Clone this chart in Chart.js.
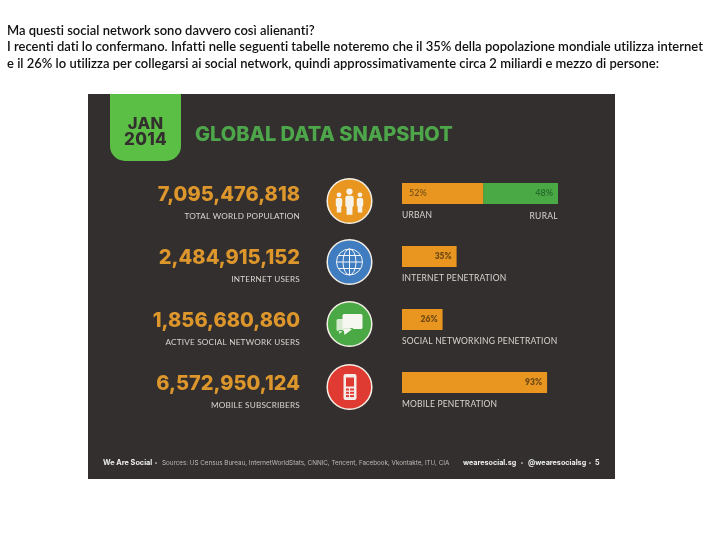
<!DOCTYPE html>
<html>
<head>
<meta charset="utf-8">
<script src="https://cdn.jsdelivr.net/npm/chart.js@4"></script>
<style>
    html, body { margin: 0; padding: 0; background: #fff; }
    #wrap { position: relative; width: 720px; height: 540px; overflow: hidden; }
    #snapshot { position: absolute; left: 0; top: 0; }
    .line { position: absolute; left: 7px; white-space: nowrap; font: 600 13px Lato, sans-serif; font-variant-ligatures: none; color: #111; }
</style>
</head>
<body>
<div id="wrap">
    <canvas id="snapshot" width="720" height="540"></canvas>
    <div class="line" style="top:22px">Ma questi social network sono davvero così alienanti?</div>
    <div class="line" style="top:38px">I recenti dati lo confermano. Infatti nelle seguenti tabelle noteremo che il 35% della popolazione mondiale utilizza internet</div>
    <div class="line" style="top:55px">e il 26% lo utilizza per collegarsi ai social network, quindi approssimativamente circa 2 miliardi e mezzo di persone:</div>
</div>
<script>
const categories = ['Total world population', 'Internet users', 'Active social network users', 'Mobile subscribers'];
const mainValues = [52, 35, 26, 93];
const ruralValues = [48, null, null, null];
const totals = ['7,095,476,818', '2,484,915,152', '1,856,680,860', '6,572,950,124'];
const totalLabels = ['TOTAL WORLD POPULATION', 'INTERNET USERS', 'ACTIVE SOCIAL NETWORK USERS', 'MOBILE SUBSCRIBERS'];
const barLabels = ['URBAN', 'INTERNET PENETRATION', 'SOCIAL NETWORKING PENETRATION', 'MOBILE PENETRATION'];
const iconColors = ['#e8961f', '#3f7cc0', '#4aa944', '#df3b33'];
const iconCenters = [201, 262, 324, 387];

const PANEL = '#332f2e';
const ORANGE = '#e8961f';
const GREEN = '#4aa944';
const LIGHT = '#d9d6d1';

function text(ctx, str, x, y, font, color, align, spacing) {
    ctx.font = font;
    ctx.fillStyle = color;
    ctx.textAlign = align || 'left';
    ctx.textBaseline = 'middle';
    ctx.letterSpacing = (spacing || 0) + 'px';
    ctx.fillText(str, x, y);
    ctx.letterSpacing = '0px';
}

function person(ctx, x, y, s) {
    ctx.beginPath();
    ctx.arc(x, y - 9 * s, 3 * s, 0, Math.PI * 2);
    ctx.fill();
    ctx.beginPath();
    ctx.roundRect(x - 4 * s, y - 5 * s, 8 * s, 11 * s, 2 * s);
    ctx.rect(x - 2.8 * s, y + 5 * s, 5.6 * s, 8 * s);
    ctx.fill();
}

function drawPeople(ctx, x, y) {
    ctx.fillStyle = '#f7f3ea';
    person(ctx, x - 10.5, y + 1, 0.8);
    person(ctx, x + 10.5, y + 1, 0.8);
    person(ctx, x, y, 1.05);
}

function drawGlobe(ctx, x, y) {
    ctx.strokeStyle = '#f3f5f7';
    ctx.lineWidth = 1;
    ctx.beginPath();
    ctx.arc(x, y, 13, 0, Math.PI * 2);
    ctx.moveTo(x - 13, y);
    ctx.lineTo(x + 13, y);
    ctx.moveTo(x, y - 13);
    ctx.lineTo(x, y + 13);
    ctx.moveTo(x - 11, y - 6.5);
    ctx.lineTo(x + 11, y - 6.5);
    ctx.moveTo(x - 11, y + 6.5);
    ctx.lineTo(x + 11, y + 6.5);
    ctx.moveTo(x + 6.5, y);
    ctx.ellipse(x, y, 6.5, 13, 0, 0, Math.PI * 2);
    ctx.stroke();
}

function drawChat(ctx, x, y) {
    ctx.fillStyle = '#d5ead0';
    ctx.beginPath();
    ctx.roundRect(x - 13, y - 5, 14, 12, 1.5);
    ctx.moveTo(x - 11, y + 6);
    ctx.lineTo(x - 10, y + 10);
    ctx.lineTo(x - 6, y + 6);
    ctx.fill();
    ctx.fillStyle = '#f7f7f2';
    ctx.beginPath();
    ctx.roundRect(x - 7, y - 10, 20, 15, 1.5);
    ctx.moveTo(x - 6, y + 4);
    ctx.lineTo(x - 5, y + 11);
    ctx.lineTo(x + 4, y + 4);
    ctx.fill();
}

function drawPhone(ctx, x, y) {
    ctx.fillStyle = '#f7ece8';
    ctx.beginPath();
    ctx.roundRect(x - 6, y - 13, 13, 26, 2);
    ctx.fill();
    ctx.fillStyle = iconColors[3];
    ctx.fillRect(x - 3.5, y - 9.5, 8, 9);
    for (let r = 0; r < 3; r++) {
        ctx.fillRect(x - 3.5, y + 1.5 + r * 3.3, 3, 2);
        ctx.fillRect(x + 0.5, y + 1.5 + r * 3.3, 4, 2);
    }
}

const iconDrawers = [drawPeople, drawGlobe, drawChat, drawPhone];

// panel behind the bars: dark card, tab, title, totals, icons
const backdrop = {
    id: 'backdrop',
    beforeDraw(chart) {
        const ctx = chart.ctx;
        const yAxis = chart.scales.y;
        ctx.save();
        ctx.fillStyle = PANEL;
        ctx.fillRect(88, 94, 527, 385);

        ctx.fillStyle = '#5cbf45';
        ctx.beginPath();
        ctx.roundRect(110, 94, 71, 67, [0, 0, 15, 15]);
        ctx.fill();
        text(ctx, 'JAN', 145.5, 124, '800 16.5px Inter', PANEL, 'center', 0.3);
        text(ctx, '2014', 145.5, 140, '800 17px Inter', PANEL, 'center', 0.3);
        text(ctx, 'GLOBAL DATA SNAPSHOT', 195, 134.5, '800 20px Inter', '#4ea64a', 'left', 0);

        categories.forEach((name, i) => {
            const y = yAxis.getPixelForValue(i);
            text(ctx, totals[i], 300, y + 1, '800 20px Inter', '#dc962c', 'right', 0);
            text(ctx, totalLabels[i], 300, y + 22.5, '400 8.2px Lato', LIGHT, 'right', 0.2);

            ctx.beginPath();
            ctx.arc(349.5, iconCenters[i], 22.3, 0, Math.PI * 2);
            ctx.fillStyle = iconColors[i];
            ctx.fill();
            ctx.strokeStyle = '#f4efe6';
            ctx.lineWidth = 1.5;
            ctx.stroke();
            iconDrawers[i](ctx, 349.5, iconCenters[i]);
        });

        text(ctx, 'We Are Social', 103, 463, '700 7.3px Inter', '#eeeeee');
        text(ctx, '•', 156, 463, '400 6px Inter', '#bdbab5', 'center');
        text(ctx, 'Sources: US Census Bureau, InternetWorldStats, CNNIC, Tencent, Facebook, Vkontakte, ITU, CIA', 162, 463, '400 6.27px Inter', '#bdbab5');
        text(ctx, 'wearesocial.sg', 463, 463, '700 7.2px Inter', '#eeeeee');
        text(ctx, '•', 522, 463, '400 6px Inter', '#bdbab5', 'center');
        text(ctx, '@wearesocialsg', 528, 463, '700 7.2px Inter', '#eeeeee');
        text(ctx, '•', 590, 463, '400 6px Inter', '#bdbab5', 'center');
        text(ctx, '5', 595, 463, '700 7.2px Inter', '#eeeeee');
        ctx.restore();
    }
};

// percent labels inside the bars and captions below them
const barText = {
    id: 'barText',
    afterDatasetsDraw(chart) {
        const ctx = chart.ctx;
        const xAxis = chart.scales.x;
        const yAxis = chart.scales.y;
        ctx.save();
        categories.forEach((name, i) => {
            const y = yAxis.getPixelForValue(i);
            if (ruralValues[i] !== null) {
                text(ctx, mainValues[i] + '%', xAxis.getPixelForValue(0) + 7, y, '600 9px Lato', '#7b5418');
                text(ctx, ruralValues[i] + '%', xAxis.getPixelForValue(100) - 5, y, '600 9px Lato', '#25682c', 'right');
                text(ctx, 'RURAL', xAxis.getPixelForValue(100), y + 23, '400 8.5px Lato', LIGHT, 'right', 0.3);
            } else {
                text(ctx, mainValues[i] + '%', xAxis.getPixelForValue(mainValues[i]) - 5, y, '800 8.5px Lato', '#6e4a14', 'right');
            }
            text(ctx, barLabels[i], xAxis.getPixelForValue(0), y + 22, '400 8.5px Lato', LIGHT, 'left', 0.2);
        });
        ctx.restore();
    }
};

new Chart(document.getElementById('snapshot'), {
    type: 'bar',
    data: {
        labels: categories,
        datasets: [
            { label: 'Main', data: mainValues, backgroundColor: ORANGE },
            { label: 'Rural', data: ruralValues, backgroundColor: GREEN }
        ]
    },
    options: {
        indexAxis: 'y',
        responsive: false,
        animation: false,
        layout: { padding: { left: 402, right: 162, top: 162, bottom: 126 } },
        datasets: { bar: { categoryPercentage: 1, barPercentage: 1 / 3 } },
        scales: {
            x: { stacked: true, min: 0, max: 100, display: false },
            y: { stacked: true, display: false }
        },
        plugins: { legend: { display: false }, tooltip: { enabled: false } }
    },
    plugins: [backdrop, barText]
});
</script>
</body>
</html>
